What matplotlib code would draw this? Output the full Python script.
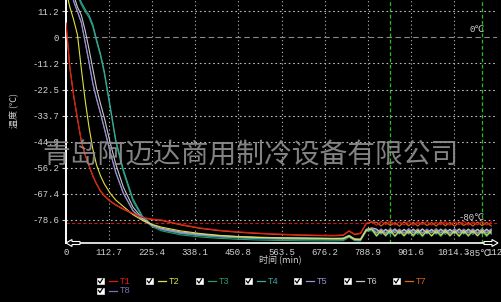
import matplotlib
matplotlib.use("Agg")
import matplotlib.pyplot as plt
from matplotlib.patches import Polygon, Rectangle
from matplotlib.lines import Line2D
from matplotlib.transforms import IdentityTransform

# ---------------- data ----------------
minutes = [0, 10, 20, 30, 40, 50, 60, 70, 80, 90, 100, 115, 130, 150, 175, 200, 225, 250,
           300, 350, 400, 450, 500, 550, 600, 650, 700, 725, 740, 755, 770, 785, 800,
           812, 824, 836, 848, 860, 872, 884, 896, 908, 920, 932, 944, 956, 968, 980,
           992, 1004, 1016, 1028, 1040, 1052, 1064, 1076, 1088, 1100, 1112]

T1 = [6, -12.8, -25, -35, -44.5, -50.5, -55, -59.5, -63, -66, -68, -70.3, -72, -73.8, -75.8,
      -77.5, -78.2, -78.6, -80.5, -82.0, -83.0, -83.7, -84.2, -84.6, -84.9, -85.1, -85.2,
      -85.0, -83.2, -84.7, -84.2, -80.0, -79.3,
      -80.9, -79.2, -80.6, -79.0, -80.8, -79.4, -80.7, -79.1, -80.9, -79.3, -80.6, -79.2,
      -80.8, -79.5, -80.7, -79.2, -80.9, -79.3, -80.6, -79.1, -80.8, -79.4, -80.7, -79.2,
      -80.8, -79.4]
T2 = [20, 13, 7.5, 1, -13.5, -27, -38.5, -48, -55, -59.5, -63, -67, -70, -72.8, -76.3, -78.8,
      -80.5, -81.7, -83.3, -84.4, -85.2, -85.8, -86.1, -86.3, -86.4, -86.5, -86.6, -86.6,
      -85.5, -87.0, -87.1, -83.0, -82.6,
      -85.3, -83.1, -85.2, -83.0, -85.4, -83.2, -85.3, -83.1, -85.2, -83.0, -85.3, -83.2,
      -85.4, -83.1, -85.2, -83.0, -85.3, -83.2, -85.4, -83.1, -85.2, -83.1, -85.3, -83.0,
      -85.2, -83.2]
T3 = [39, 31, 24, 18, 14, 11, 8.5, 4.5, -2, -8, -15.5, -30, -45, -58, -70.5, -77.6, -81.5, -83.3,
      -85.0, -85.9, -86.5, -86.9, -87.2, -87.4, -87.5, -87.6, -87.6, -87.5, -86.0, -87.5,
      -87.6, -83.5, -83.2,
      -85.7, -83.6, -85.6, -83.5, -85.8, -83.7, -85.6, -83.5, -85.7, -83.6, -85.8, -83.5,
      -85.6, -83.7, -85.7, -83.5, -85.6, -83.6, -85.8, -83.5, -85.7, -83.6, -85.6, -83.5,
      -85.7, -83.6]
T4 = [40, 32, 25, 19, 15, 12, 9.5, 5.5, -1, -7, -14.5, -29, -44, -57, -69.5, -77, -80.8, -82.7,
      -84.4, -85.3, -85.9, -86.3, -86.6, -86.8, -86.9, -87.0, -87.1, -87.0, -85.8, -87.2,
      -87.3, -83.2, -82.8,
      -82.9, -84.7, -82.8, -84.8, -82.9, -84.6, -82.8, -84.7, -82.9, -84.8, -82.7, -84.6,
      -82.9, -84.7, -82.8, -84.8, -82.9, -84.6, -82.8, -84.7, -82.9, -84.8, -82.7, -84.6,
      -82.9, -84.7]
T5 = [30, 22, 15.5, 11, 6.5, -2, -10.5, -19.7, -26.5, -32.5, -39, -49, -58, -67, -74.5, -78.5,
      -80.9, -82.4, -84.0, -84.9, -85.5, -85.9, -86.2, -86.4, -86.5, -86.6, -86.7, -86.6,
      -85.4, -86.9, -87.0, -82.8, -82.3,
      -84.3, -82.7, -84.4, -82.6, -84.2, -82.8, -84.4, -82.6, -84.3, -82.7, -84.4, -82.8,
      -84.2, -82.6, -84.3, -82.7, -84.4, -82.6, -84.3, -82.8, -84.2, -82.7, -84.4, -82.6,
      -84.3, -82.7]
T6 = [32, 25, 18, 13, 9.5, 3, -5, -13.5, -22, -28.5, -34.5, -45, -54.5, -64.5, -73, -78,
      -80.7, -82.2, -83.8, -84.7, -85.3, -85.7, -86.0, -86.2, -86.3, -86.4, -86.5, -86.4,
      -85.2, -86.7, -86.8, -82.6, -82.0,
      -82.5, -84.1, -82.6, -84.0, -82.4, -84.2, -82.6, -84.1, -82.5, -84.0, -82.4, -84.1,
      -82.6, -84.2, -82.5, -84.0, -82.6, -84.1, -82.4, -84.2, -82.5, -84.0, -82.6, -84.1,
      -82.5, -84.2]
T7 = [6, -13, -25.2, -35.2, -44.7, -50.7, -55.2, -59.7, -63.2, -66.2, -68.2, -70.5, -72.2, -74.0, -76.0,
      -77.7, -78.4, -78.8, -80.7, -82.2, -83.2, -83.9, -84.4, -84.8, -85.1, -85.3, -85.4,
      -85.2, -83.4, -84.9, -84.4, -80.2, -79.5,
      -79.6, -81.2, -79.5, -81.0, -79.7, -81.3, -79.4, -81.1, -79.6, -81.2, -79.5, -81.0,
      -79.7, -81.2, -79.4, -81.1, -79.6, -81.3, -79.5, -81.0, -79.7, -81.2, -79.5, -81.1,
      -79.6, -81.2]
T8 = [30, 22, 15.5, 11, 6.3, -2.2, -10.7, -19.9, -26.7, -32.7, -39.2, -49.2, -58.2, -67.2, -74.7, -78.7,
      -81.1, -82.6, -84.2, -85.1, -85.7, -86.1, -86.4, -86.6, -86.7, -86.8, -86.9, -86.8,
      -85.6, -87.1, -87.2, -83.0, -82.5,
      -83.9, -82.4, -84.0, -82.3, -83.8, -82.5, -84.0, -82.3, -83.9, -82.4, -84.0, -82.5,
      -83.8, -82.3, -83.9, -82.4, -84.0, -82.3, -83.9, -82.5, -83.8, -82.4, -84.0, -82.3,
      -83.9, -82.4]

series_names = ["T1", "T2", "T3", "T4", "T5", "T6", "T7", "T8"]
series_values = [T1, T2, T3, T4, T5, T6, T7, T8]
series_colors = ["#e01818", "#e0e040", "#2a9a6a", "#38a8a0", "#9c90d8", "#c8c8c8", "#d86818", "#7c70b0"]
draw_order = [6, 7, 2, 3, 5, 4, 1, 0]

x_ticks = [0, 112.7, 225.4, 338.1, 450.8, 563.5, 676.2, 788.9, 901.6, 1014.3, 1127.0]
x_tick_labels = ["0", "112.7", "225.4", "338.1", "450.8", "563.5", "676.2", "788.9", "901.6", "1014.3", "1127"]
y_ticks = [11.2, 0, -11.2, -22.5, -33.7, -44.9, -56.2, -67.4, -78.6]
y_tick_labels = ["11.2", "0", "-11.2", "-22.5", "-33.7", "-44.9", "-56.2", "-67.4", "-78.6"]
marker_lines = [848, 1088]
limit_line = -80

for s in series_values:
    assert len(s) == len(minutes)

# ---------------- figure ----------------
W, H = 501, 302
fig = plt.figure(figsize=(W / 100, H / 100), dpi=100, facecolor="black")
ax = fig.add_axes([66 / W, 1 - 243 / H, 431 / W, 243 / H])
ax.set_facecolor("black")
ax.set_xlim(0, 1121)
ax.set_ylim(-88.5, 16.0)

mono = "Liberation Mono"
txtc = "#d4d4d4"

# grid
for xv in x_ticks[1:]:
    ax.axvline(xv, color="#bdbdbd", lw=0.8, ls=(0, (1, 2.5)), zorder=1)
for yv in y_ticks:
    if yv == 0:
        ax.axhline(yv, color="#8a8a8a", lw=0.8, ls=(0, (5, 3)), zorder=1)
    else:
        ax.axhline(yv, color="#bdbdbd", lw=0.8, ls=(0, (1.5, 2.5)), zorder=1)
for xv in marker_lines:
    ax.axvline(xv, color="#22c022", lw=0.9, ls=(0, (3, 2)), zorder=1.5)
ax.axhline(limit_line, color="#c01818", lw=0.8, ls=(0, (3, 2)), zorder=1.5)

# series
for k, i in enumerate(draw_order):
    ax.plot(minutes, series_values[i], color=series_colors[i], lw=0.8, zorder=3 + k * 0.1)

# axes styling
for sp in ["top", "right"]:
    ax.spines[sp].set_visible(False)
ax.spines["left"].set_color("white")
ax.spines["left"].set_linewidth(1.4)
ax.spines["bottom"].set_color("white")
ax.spines["bottom"].set_linewidth(1.2)
ax.set_xticks(x_ticks)
ax.set_xticklabels(x_tick_labels)
ax.set_yticks(y_ticks)
ax.set_yticklabels(y_tick_labels)
ax.tick_params(axis="y", colors=txtc, length=3, width=0.8, pad=2, labelsize=6.5)
ax.tick_params(axis="x", colors=txtc, length=0, pad=3.5, labelsize=6.5)
for lab in ax.get_xticklabels() + ax.get_yticklabels():
    lab.set_fontfamily(mono)
    lab.set_color(txtc)
for lab in ax.get_xticklabels():
    lab.set_clip_on(False)

ident = IdentityTransform()


def P(px, py):
    return (px, H - py)


# axis arrows (hollow)
left_arrow = [P(66, 243), P(72, 239.5), P(72, 241.5), P(80, 241.5), P(80, 244.5), P(72, 244.5), P(72, 246.5)]
right_arrow = [P(498, 243), P(492, 239.5), P(492, 241.5), P(484, 241.5), P(484, 244.5), P(492, 244.5), P(492, 246.5)]
for pts in (left_arrow, right_arrow):
    fig.add_artist(Polygon(pts, closed=True, facecolor="black", edgecolor="white", lw=0.8, transform=ident))

# annotations inside
ax.text(1095, 1.2, "0℃", color=txtc, fontsize=6.5, family=["Liberation Mono", "DejaVu Sans"], ha="right", va="bottom", zorder=5)
ax.text(1095, -79.6, "-80℃", color=txtc, fontsize=6.5, family=["Liberation Mono", "DejaVu Sans"], ha="right", va="bottom", zorder=5)
fig.text(478 / W, 1 - 254 / H, "-85℃", color=txtc, fontsize=6.5, family=["Liberation Mono", "DejaVu Sans"],
         ha="center", va="center")

# axis titles
cjk = ["Noto Sans CJK SC", "DejaVu Sans"]
fig.text(280 / W, 1 - 259 / H, "时间 (min)", color=txtc, fontsize=6.5, family=cjk, ha="center", va="center")
fig.text(15 / W, 1 - 110 / H, "温度 (℃)", color=txtc, fontsize=6.5, family=cjk, ha="center", va="center", rotation=90)

# watermark
fig.text(250 / W, 1 - 155 / H, "青岛阿迈达商用制冷设备有限公司", color="#8e8e8e", alpha=0.92,
         fontsize=20, family=cjk, ha="center", va="center", zorder=10)

# legend with checkboxes
legend_pos = [(97, 281), (146, 281), (196, 281), (245, 281), (294, 281), (344, 281), (393, 281), (97, 290.5)]
for (bx, by), name, col in zip(legend_pos, series_names, series_colors):
    fig.add_artist(Rectangle(P(bx, by + 3), 7, 6, facecolor="white", edgecolor="#e8e8e8", lw=0.5, transform=ident))
    fig.add_artist(Line2D([bx + 1.5, bx + 3, bx + 5.5], [H - by, H - by - 2, H - by + 2],
                          color="black", lw=0.9, transform=ident))
    fig.add_artist(Line2D([bx + 12, bx + 20], [H - by, H - by], color=col, lw=0.9, transform=ident))
    fig.text((bx + 23) / W, 1 - by / H, name, color=col, fontsize=6.5, family=mono, ha="left", va="center")

fig.savefig("out.png", dpi=100, facecolor="black")
